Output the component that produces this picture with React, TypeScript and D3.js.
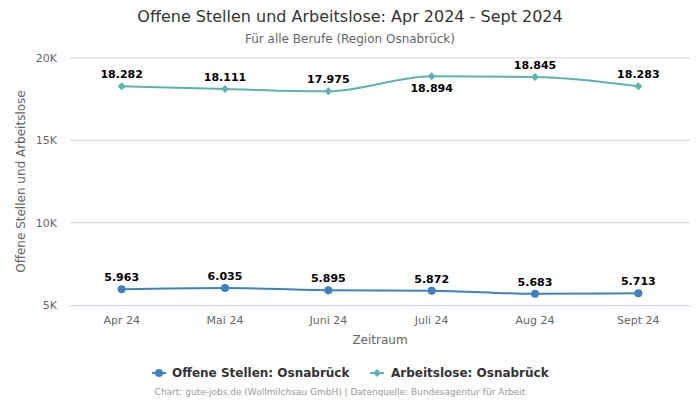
import React from "react";
import * as d3 from "d3";

const categories = ["Apr 24", "Mai 24", "Juni 24", "Juli 24", "Aug 24", "Sept 24"];
const offeneStellen = [5963, 6035, 5895, 5872, 5683, 5713];
const arbeitslose = [18282, 18111, 17975, 18894, 18845, 18283];
const arbeitsloseLabelBelow = [false, false, false, true, false, false];
const yTicks = [5000, 10000, 15000, 20000];
const seriesNames = ["Offene Stellen: Osnabrück", "Arbeitslose: Osnabrück"];

const W = 700, H = 400;
const FONT = "DejaVu Sans, sans-serif";
const C1 = "#3d82be";
const C2 = "#5ab4ad";

const diamondPath = (r: number) => `M0,${-r}L${r},0L0,${r}L${-r},0Z`;

export default function App() {
  const x = d3.scaleBand<string>().domain(categories).range([70, 690]);
  const y = d3.scaleLinear().domain([5000, 20000]).range([305, 58]);
  const cx = (c: string) => (x(c) as number) + x.bandwidth() / 2;
  const line = d3
    .line<number>()
    .x((_, i) => cx(categories[i]))
    .y((d) => y(d))
    .curve(d3.curveMonotoneX);
  const fmt = (v: number) => d3.format(",")(v).replace(/,/g, ".");
  const diamond = diamondPath(4);

  return (
    <svg width={W} height={H} style={{ position: "absolute", left: 0, top: 0, fontFamily: FONT }}>
      <rect width={W} height={H} fill="#fff" />
      <text x={350} y={22} textAnchor="middle" fontSize={16} fill="#333">
        Offene Stellen und Arbeitslose: Apr 2024 - Sept 2024
      </text>
      <text x={350} y={43} textAnchor="middle" fontSize={12} fill="#666">
        Für alle Berufe (Region Osnabrück)
      </text>
      {yTicks.map((t) => (
        <g key={t}>
          {t !== 5000 && <line x1={70} x2={690} y1={y(t)} y2={y(t)} stroke="#d6d6d6" />}
          <text x={57} y={y(t) + 4} textAnchor="end" fontSize={11} fill="#666">
            {t / 1000 + "K"}
          </text>
        </g>
      ))}
      <line x1={70} x2={690} y1={y(5000) + 0.5} y2={y(5000) + 0.5} stroke="#ccd6eb" />
      {categories.map((c) => (
        <text key={c} x={cx(c)} y={324} textAnchor="middle" fontSize={11} fill="#666">
          {c}
        </text>
      ))}
      <text x={380} y={344} textAnchor="middle" fontSize={12} fill="#666">
        Zeitraum
      </text>
      <text
        transform={`translate(25,${(58 + 305) / 2}) rotate(-90)`}
        textAnchor="middle"
        fontSize={12}
        fill="#666"
      >
        Offene Stellen und Arbeitslose
      </text>

      <path d={line(arbeitslose) || ""} fill="none" stroke={C2} strokeWidth={2} />
      <path d={line(offeneStellen) || ""} fill="none" stroke={C1} strokeWidth={2} />

      {arbeitslose.map((v, i) => (
        <g key={"a" + i}>
          <path d={diamond} transform={`translate(${cx(categories[i])},${y(v)})`} fill={C2} />
          <text
            x={cx(categories[i])}
            y={arbeitsloseLabelBelow[i] ? y(v) + 16 : y(v) - 8}
            textAnchor="middle"
            fontSize={11}
            fontWeight="bold"
            fill="#000"
            stroke="#fff"
            strokeWidth={2}
            paintOrder="stroke"
          >
            {fmt(v)}
          </text>
        </g>
      ))}
      {offeneStellen.map((v, i) => (
        <g key={"o" + i}>
          <circle cx={cx(categories[i])} cy={y(v)} r={4} fill={C1} />
          <text
            x={cx(categories[i])}
            y={y(v) - 8}
            textAnchor="middle"
            fontSize={11}
            fontWeight="bold"
            fill="#000"
            stroke="#fff"
            strokeWidth={2}
            paintOrder="stroke"
          >
            {fmt(v)}
          </text>
        </g>
      ))}

      <g>
        <line x1={152} x2={166} y1={373} y2={373} stroke={C1} strokeWidth={2} />
        <circle cx={159} cy={373} r={4} fill={C1} />
        <text x={172} y={377} fontSize={12} fontWeight="bold" fill="#333">
          {seriesNames[0]}
        </text>
        <line x1={370} x2={384} y1={373} y2={373} stroke={C2} strokeWidth={2} />
        <path d={diamond} transform="translate(377,373)" fill={C2} />
        <text x={391} y={377} fontSize={12} fontWeight="bold" fill="#333">
          {seriesNames[1]}
        </text>
      </g>
      <text x={340} y={395} textAnchor="middle" fontSize={9} fill="#999">
        Chart: gute-jobs.de (Wollmilchsau GmbH) | Datenquelle: Bundesagentur für Arbeit
      </text>
    </svg>
  );
}
